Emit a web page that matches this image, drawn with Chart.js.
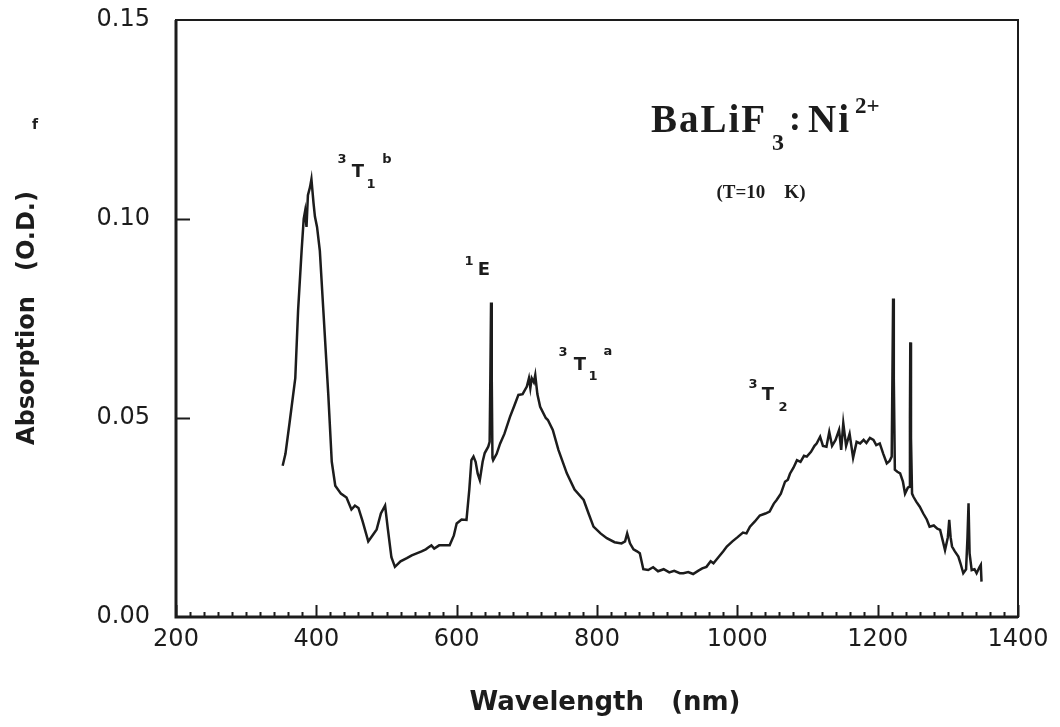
<!DOCTYPE html>
<html>
<head>
<meta charset="utf-8">
<script src="https://cdn.jsdelivr.net/npm/chart.js@4.4.0/dist/chart.umd.min.js"></script>
<style>
  html, body { margin: 0; padding: 0; background: #fff; }
</style>
</head>
<body>
<canvas id="chartAbs" width="1060" height="727"></canvas>
<script>
// absorption spectrum BaLiF3:Ni2+ at 10 K
let wavelength = [
  352, 356, 362, 370, 374, 379, 382, 384, 386, 388, 391, 393, 396, 398, 401, 405, 410, 417, 422, 427,
  435, 443, 450, 455, 460, 466, 474, 480, 486, 492, 498, 502, 507, 512, 520, 529, 536, 543, 550, 556,
  560, 564, 568, 575, 583, 590, 596, 600, 607, 614, 618, 621, 624, 627, 630, 633, 637, 640, 645, 647,
  648, 649, 650, 651, 652, 657, 662, 668, 676, 682, 688, 694, 700, 703, 705, 707, 710, 712, 715, 719,
  727, 730, 737, 745, 757, 768, 781, 788, 795, 805, 814, 825, 835, 840, 843, 847, 852, 857, 861, 866,
  873, 880, 887, 895, 903, 910, 918, 923, 930, 937, 944, 950, 956, 962, 966, 973, 980, 985, 993, 1000,
  1008, 1013, 1018, 1025, 1032, 1040, 1046, 1052, 1056, 1062, 1068, 1072, 1075, 1080, 1085, 1090, 1095, 1099, 1105, 1110,
  1113, 1118, 1122, 1127, 1131, 1135, 1140, 1145, 1148, 1151, 1155, 1160, 1165, 1170, 1175, 1180, 1184, 1189, 1194, 1198,
  1203, 1208, 1213, 1217, 1220, 1221, 1222, 1223, 1224.5, 1228, 1232, 1236, 1239, 1243, 1245, 1246, 1246.5, 1247.5, 1249, 1251,
  1255, 1260, 1265, 1270, 1274, 1280, 1285, 1289, 1293, 1296, 1300, 1302, 1304, 1306, 1310, 1315, 1318, 1322, 1326, 1328,
  1329.5, 1331, 1334, 1338, 1341, 1345, 1347, 1348
];
let absorption = [
  0.038, 0.041, 0.049, 0.060, 0.077, 0.092, 0.100, 0.102, 0.098, 0.106, 0.108, 0.110, 0.104, 0.1006, 0.098, 0.092, 0.077, 0.056, 0.039, 0.033,
  0.031, 0.030, 0.027, 0.028, 0.0274, 0.024, 0.019, 0.0205, 0.022, 0.026, 0.028, 0.022, 0.015, 0.0126, 0.014, 0.0148, 0.0155, 0.016, 0.0165, 0.017,
  0.0175, 0.018, 0.0172, 0.018, 0.018, 0.018, 0.0205, 0.0235, 0.0245, 0.0244, 0.032, 0.0394, 0.0403, 0.039, 0.036, 0.0344, 0.039, 0.0412, 0.0428, 0.044,
  0.060, 0.079, 0.060, 0.040, 0.0394, 0.041, 0.0436, 0.046, 0.0503, 0.053, 0.0558, 0.056, 0.0579, 0.060, 0.0575, 0.060, 0.059, 0.0608, 0.056, 0.0528,
  0.050, 0.0495, 0.047, 0.042, 0.0361, 0.032, 0.0294, 0.026, 0.0227, 0.021, 0.0198, 0.0188, 0.0185, 0.019, 0.021, 0.0185, 0.017, 0.0165, 0.016, 0.012,
  0.0118, 0.0125, 0.0115, 0.012, 0.0112, 0.0116, 0.011, 0.011, 0.0113, 0.0108, 0.0116, 0.0122, 0.0126, 0.014, 0.0135, 0.015, 0.0165, 0.0177, 0.019, 0.020,
  0.0212, 0.021, 0.0227, 0.024, 0.0255, 0.026, 0.0265, 0.0285, 0.0294, 0.031, 0.034, 0.0345, 0.036, 0.0375, 0.0394, 0.039, 0.0405, 0.0403, 0.0415, 0.043,
  0.0436, 0.0453, 0.043, 0.0428, 0.0465, 0.043, 0.0445, 0.047, 0.042, 0.0487, 0.043, 0.046, 0.040, 0.044, 0.0436, 0.0445, 0.0437, 0.045, 0.0445, 0.0432,
  0.0436, 0.041, 0.0386, 0.0392, 0.0403, 0.060, 0.080, 0.060, 0.037, 0.0365, 0.0361, 0.034, 0.031, 0.0325, 0.0327, 0.050, 0.069, 0.045, 0.031, 0.0302,
  0.029, 0.0277, 0.026, 0.0245, 0.0227, 0.023, 0.0222, 0.0219, 0.019, 0.0168, 0.020, 0.0244, 0.020, 0.0177, 0.0165, 0.0152, 0.0135, 0.011, 0.012, 0.020,
  0.0286, 0.016, 0.0118, 0.012, 0.011, 0.0125, 0.0131, 0.0089
];

let xTicks = [200, 400, 600, 800, 1000, 1200, 1400];
let yTicks = [0.00, 0.05, 0.10, 0.15];

const ink = '#1c1c1c';
const sans = '"DejaVu Sans", sans-serif';
const serif = '"Liberation Serif", "DejaVu Serif", serif';

function label(ctx, txt, x, y, font) {
    ctx.font = font;
    ctx.fillText(txt, x, y);
}

// frame, inward ticks and the annotations
const decor = {
    id: 'decor',
    afterDraw(chart) {
        const ctx = chart.ctx;
        const a = chart.chartArea;
        const xs = chart.scales.x;
        const ys = chart.scales.y;
        ctx.save();
        ctx.strokeStyle = ink;
        ctx.fillStyle = ink;

        // frame
        ctx.lineWidth = 2;
        ctx.strokeRect(a.left, a.top, a.right - a.left, a.bottom - a.top);
        ctx.lineWidth = 3;
        ctx.beginPath();
        ctx.moveTo(a.left, a.top);
        ctx.lineTo(a.left, a.bottom);
        ctx.lineTo(a.right, a.bottom);
        ctx.stroke();

        // x ticks, minor every 20 nm
        ctx.lineWidth = 2;
        ctx.beginPath();
        for (let v = xTicks[0]; v <= xTicks[xTicks.length - 1]; v += 20) {
            const px = Math.round(xs.getPixelForValue(v)) + 0.5;
            const len = (v % 200 === 0) ? 12 : 5;
            ctx.moveTo(px, a.bottom);
            ctx.lineTo(px, a.bottom - len);
        }
        // y ticks (only the inner ones)
        yTicks.slice(1, -1).forEach(v => {
            const py = Math.round(ys.getPixelForValue(v)) + 0.5;
            ctx.moveTo(a.left, py);
            ctx.lineTo(a.left + 14, py);
        });
        ctx.stroke();

        // axis titles
        ctx.textAlign = 'center';
        ctx.textBaseline = 'middle';
        label(ctx, 'Wavelength   (nm)', (a.left + a.right) / 2 + 8, 703, 'bold 26px ' + sans);
        ctx.save();
        ctx.translate(28, 318);
        ctx.rotate(-Math.PI / 2);
        label(ctx, 'Absorption   (O.D.)', 0, 0, 'bold 24px ' + sans);
        ctx.restore();
        label(ctx, 'f', 35, 125, 'bold 14px ' + sans);

        // band labels
        const big = 'bold 18px ' + sans;
        const small = 'bold 13px ' + sans;
        label(ctx, '3', 342, 160, small);
        label(ctx, 'T', 358, 172, big);
        label(ctx, '1', 371, 185, small);
        label(ctx, 'b', 387, 160, small);

        label(ctx, '1', 469, 262, small);
        label(ctx, 'E', 484, 270, big);

        label(ctx, '3', 563, 353, small);
        label(ctx, 'T', 580, 365, big);
        label(ctx, '1', 593, 377, small);
        label(ctx, 'a', 608, 352, small);

        label(ctx, '3', 753, 385, small);
        label(ctx, 'T', 768, 395, big);
        label(ctx, '2', 783, 408, small);

        // sample title
        ctx.textAlign = 'left';
        ctx.textBaseline = 'alphabetic';
        ctx.letterSpacing = '2px';
        label(ctx, 'BaLiF', 651, 132, 'bold 39px ' + serif);
        label(ctx, 'Ni', 808, 132, 'bold 39px ' + serif);
        label(ctx, ':', 789, 130, 'bold 36px ' + serif);
        ctx.letterSpacing = '0px';
        label(ctx, '3', 772, 150, 'bold 24px ' + serif);
        label(ctx, '2+', 855, 113, 'bold 23px ' + serif);
        ctx.textAlign = 'center';
        ctx.textBaseline = 'middle';
        label(ctx, '(T=10    K)', 761, 193, 'bold 19px ' + serif);

        ctx.restore();
    }
};

let points = wavelength.map((w, i) => ({ x: w, y: absorption[i] }));

window.addEventListener('load', function() {
    let ctx = document.getElementById('chartAbs');
    new Chart(ctx, {
        type: 'line',
        data: {
            datasets: [{
                label: 'Absorption',
                data: points,
                borderColor: ink,
                borderWidth: 2.5,
                pointRadius: 0,
                tension: 0,
                fill: false
            }]
        },
        options: {
            responsive: false,
            animation: false,
            devicePixelRatio: 1,
            layout: { padding: { top: 20, right: 42, left: 0, bottom: 0 } },
            plugins: {
                legend: { display: false },
                tooltip: { enabled: false }
            },
            scales: {
                x: {
                    type: 'linear',
                    min: 200,
                    max: 1400,
                    grid: { display: false, drawTicks: false },
                    border: { display: false },
                    afterFit: (scale) => {
                        scale.height = 110;
                        scale.paddingLeft = 0;
                        scale.paddingRight = 0;
                    },
                    afterBuildTicks: (scale) => { scale.ticks = xTicks.map(v => ({ value: v })); },
                    ticks: {
                        padding: 8,
                        color: ink,
                        font: { family: 'DejaVu Sans', size: 24 },
                        callback: (v) => String(v)
                    }
                },
                y: {
                    min: 0,
                    max: 0.15,
                    grid: { display: false, drawTicks: false },
                    border: { display: false },
                    afterFit: (scale) => {
                        scale.width = 176;
                        scale.paddingTop = 0;
                        scale.paddingBottom = 0;
                    },
                    afterBuildTicks: (scale) => { scale.ticks = yTicks.map(v => ({ value: v })); },
                    ticks: {
                        padding: 26,
                        color: ink,
                        font: { family: 'DejaVu Sans', size: 24 },
                        callback: (v) => v.toFixed(2)
                    }
                }
            }
        },
        plugins: [decor]
    });
});
</script>
</body>
</html>
